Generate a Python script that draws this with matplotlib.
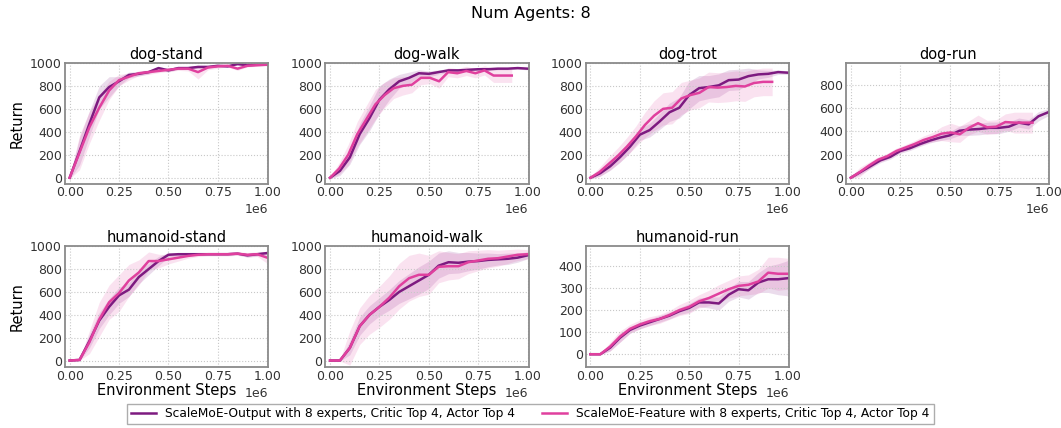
import numpy as np
import matplotlib.pyplot as plt
from matplotlib.ticker import MultipleLocator

# environment steps (evaluation grid)
steps = np.arange(21) * 50000
steps_short = np.arange(21) * 46000  # runs that stopped at ~0.92e6

tasks = ['dog-stand', 'dog-walk', 'dog-trot', 'dog-run',
         'humanoid-stand', 'humanoid-walk', 'humanoid-run']

# ScaleMoE-Output mean / std
out_mean = {
    'dog-stand': [0, 230, 470, 700, 790, 840, 895, 905, 920, 955, 935, 955, 955, 965, 965, 975, 970, 990, 980, 985, 985],
    'dog-walk': [0, 60, 177, 380, 520, 680, 770, 840, 870, 910, 905, 920, 935, 935, 940, 945, 945, 950, 950, 955, 950],
    'dog-trot': [0, 40, 100, 180, 270, 375, 415, 490, 570, 610, 720, 780, 790, 805, 850, 855, 885, 900, 905, 920, 915],
    'dog-run': [0, 50, 100, 150, 180, 230, 255, 290, 320, 345, 365, 405, 415, 420, 430, 430, 440, 475, 460, 530, 565],
    'humanoid-stand': [0, 5, 170, 350, 470, 570, 620, 730, 800, 870, 925, 930, 930, 930, 930, 930, 930, 935, 920, 930, 940],
    'humanoid-walk': [0, 0, 110, 300, 400, 470, 530, 600, 650, 700, 750, 830, 860, 855, 865, 870, 880, 885, 890, 900, 920],
    'humanoid-run': [0, 0, 30, 75, 110, 130, 145, 160, 175, 195, 210, 235, 235, 230, 270, 295, 290, 325, 340, 340, 345],
}
out_std = {
    'dog-stand': [10, 120, 110, 100, 90, 40, 25, 20, 15, 15, 15, 10, 10, 10, 10, 8, 8, 8, 8, 8, 8],
    'dog-walk': [10, 40, 60, 90, 110, 120, 90, 60, 50, 30, 25, 20, 15, 15, 10, 10, 10, 10, 10, 10, 10],
    'dog-trot': [10, 25, 35, 45, 50, 50, 60, 70, 80, 90, 120, 110, 100, 100, 90, 90, 70, 40, 30, 20, 15],
    'dog-run': [10, 20, 20, 20, 20, 20, 20, 20, 20, 25, 30, 40, 50, 50, 50, 50, 40, 40, 40, 40, 30],
    'humanoid-stand': [5, 5, 60, 70, 70, 70, 60, 60, 50, 40, 20, 15, 10, 10, 10, 10, 10, 10, 15, 15, 15],
    'humanoid-walk': [5, 5, 60, 80, 80, 80, 90, 100, 110, 120, 120, 110, 100, 90, 80, 70, 60, 50, 50, 40, 30],
    'humanoid-run': [2, 2, 15, 20, 15, 15, 15, 15, 15, 15, 20, 20, 25, 30, 30, 35, 40, 45, 60, 70, 80],
}

# ScaleMoE-Feature mean / std
feat_mean = {
    'dog-stand': [0, 220, 440, 610, 760, 850, 880, 910, 920, 930, 940, 950, 950, 920, 960, 970, 975, 950, 975, 980, 985],
    'dog-walk': [0, 80, 200, 380, 510, 640, 720, 780, 800, 810, 870, 870, 840, 920, 910, 930, 910, 935, 890, 890, 890],
    'dog-trot': [0, 50, 120, 190, 270, 360, 460, 540, 600, 610, 690, 720, 740, 790, 785, 790, 800, 795, 825, 835, 835],
    'dog-run': [0, 50, 105, 155, 185, 230, 260, 290, 325, 350, 380, 390, 375, 430, 470, 435, 440, 480, 475, 475, 475],
    'humanoid-stand': [0, 5, 160, 360, 510, 590, 700, 770, 870, 870, 885, 900, 915, 925, 930, 930, 930, 935, 925, 930, 900],
    'humanoid-walk': [0, 0, 110, 300, 400, 470, 550, 650, 720, 750, 750, 820, 825, 825, 860, 875, 890, 895, 910, 925, 930],
    'humanoid-run': [0, 0, 35, 80, 115, 135, 150, 160, 178, 200, 215, 240, 255, 275, 295, 310, 315, 330, 370, 365, 365],
}
feat_std = {
    'dog-stand': [10, 150, 140, 110, 80, 50, 30, 20, 20, 15, 15, 15, 20, 60, 20, 15, 10, 15, 10, 10, 10],
    'dog-walk': [10, 50, 90, 110, 120, 130, 110, 90, 80, 70, 60, 50, 60, 40, 40, 40, 40, 40, 60, 60, 60],
    'dog-trot': [10, 40, 60, 70, 80, 90, 110, 130, 140, 140, 140, 130, 130, 130, 130, 130, 130, 130, 120, 120, 120],
    'dog-run': [10, 40, 30, 25, 25, 25, 25, 30, 35, 40, 60, 80, 70, 60, 70, 60, 60, 70, 90, 90, 90],
    'humanoid-stand': [5, 5, 100, 150, 150, 160, 140, 110, 80, 60, 40, 30, 20, 15, 15, 15, 15, 15, 20, 20, 50],
    'humanoid-walk': [5, 5, 150, 160, 170, 180, 190, 200, 200, 190, 170, 140, 120, 110, 100, 90, 80, 70, 60, 50, 40],
    'humanoid-run': [2, 2, 20, 25, 20, 20, 20, 20, 20, 25, 30, 30, 35, 40, 40, 45, 45, 55, 70, 75, 70],
}
short_runs = ['dog-walk', 'dog-trot', 'dog-run']

ylims = {
    'dog-stand': (-50, 1000), 'dog-walk': (-50, 1000), 'dog-trot': (-50, 1000),
    'dog-run': (-50, 990), 'humanoid-stand': (-55, 1000),
    'humanoid-walk': (-55, 1000), 'humanoid-run': (-57, 490),
}

c_out = '#7d1a80'
c_feat = '#e0409e'

plt.rcParams['font.family'] = 'DejaVu Sans'
fig, axes = plt.subplots(2, 4, figsize=(10.61, 4.28), dpi=100)
fig.subplots_adjust(left=0.061, right=0.989, top=0.853, bottom=0.143,
                    wspace=0.28, hspace=0.52)
axes = axes.ravel()

for i, task in enumerate(tasks):
    ax = axes[i]
    xf = steps_short if task in short_runs else steps
    for x, m, s, c, lab in [
        (steps, out_mean[task], out_std[task], c_out,
         'ScaleMoE-Output with 8 experts, Critic Top 4, Actor Top 4'),
        (xf, feat_mean[task], feat_std[task], c_feat,
         'ScaleMoE-Feature with 8 experts, Critic Top 4, Actor Top 4'),
    ]:
        m = np.array(m)
        s = np.array(s)
        ax.fill_between(x, m - s, m + s, color=c, alpha=0.15, linewidth=0)
        ax.plot(x, m, color=c, lw=1.8, label=lab)
    ax.set_title(task, fontsize=10.5, pad=3)
    ax.set_xlim(-25000, 1005000)
    ax.set_ylim(*ylims[task])
    ax.yaxis.set_major_locator(MultipleLocator(100 if task == 'humanoid-run' else 200))
    ax.set_xticks([0, 250000, 500000, 750000, 1000000])
    ax.ticklabel_format(axis='x', style='sci', scilimits=(0, 0))
    ax.xaxis.get_offset_text().set_fontsize(9)
    ax.grid(True, ls=':', color='#c8c8c8', lw=0.8)
    ax.tick_params(labelsize=9, length=0, pad=2, colors='#333333')
    for sp in ax.spines.values():
        sp.set_color('#8a8a8a')
        sp.set_linewidth(1.3)
    if i % 4 == 0:
        ax.set_ylabel('Return', fontsize=10.5)
    if i >= 4:
        ax.set_xlabel('Environment Steps', fontsize=10.5, labelpad=0)

axes[7].axis('off')

fig.suptitle('Num Agents: 8', fontsize=11.5, y=0.985)
handles, labels = axes[0].get_legend_handles_labels()
fig.legend(handles, labels, loc='lower center', ncol=2, fontsize=8.8,
           bbox_to_anchor=(0.5, -0.005), frameon=True, fancybox=False,
           edgecolor='#999999', columnspacing=2.2, borderpad=0.3)

fig.savefig('out.png', dpi=100)
